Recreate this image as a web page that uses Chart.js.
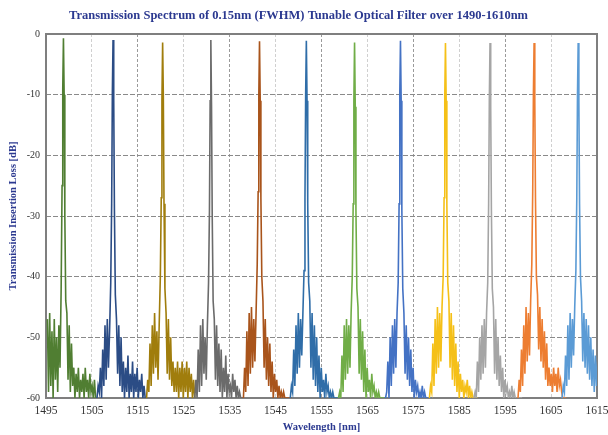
<!DOCTYPE html>
<html>
<head>
<meta charset="utf-8">
<script src="https://cdn.jsdelivr.net/npm/chart.js@4"></script>
<style>
  html, body { margin: 0; padding: 0; background: #fff; overflow: hidden; }
  #wrap { width: 608px; height: 435px; overflow: hidden; }
</style>
</head>
<body>
<div id="wrap"><canvas id="myChart" width="630" height="435"></canvas></div>
<script>
// axis ticks
const xTicks = [1495, 1505, 1515, 1525, 1535, 1545, 1555, 1565, 1575, 1585, 1595, 1605, 1615];
const yTicks = [0, -10, -20, -30, -40, -50, -60];

// centre wavelength of each filter setting (nm)
const peakNm = [1498.8, 1509.6, 1520.4, 1530.9, 1541.5, 1551.7, 1562.2, 1572.2, 1582.0, 1591.7, 1601.3, 1610.9];

// sample positions relative to the centre (nm)
const offsetNm = [-3.5, -3.25, -3, -2.75, -2.5, -2.25, -2, -1.75, -1.5, -1.25, -1, -0.75, -0.5,
  -0.3, -0.15, 0, 0.15, 0.3,
  0.5, 0.75, 1, 1.25, 1.5, 1.75, 2, 2.25, 2.5, 2.75, 3, 3.25, 3.5, 3.75, 4, 4.25, 4.5, 4.75,
  5, 5.25, 5.5, 5.75, 6, 6.25, 6.5, 6.75, 7];

// insertion loss (dB)
const ch01 = [-47, -59, -46, -58, -49, -60, -47, -57, -50, -59, -48, -55,
  -42, -25, -9, -0.7, -10, -30, -44,
  -46, -57, -48, -59, -51, -58, -55, -60, -56, -59, -55, -60, -57, -59, -56, -60, -55, -59, -57, -60, -56, -59, -58, -60, -57, -60];
const ch02 = [-60, -58, -59, -55, -60, -52, -58, -48, -57, -47, -55, -49,
  -41, -28, -10, -1.0, -11, -29, -43,
  -47, -56, -48, -58, -50, -59, -54, -60, -55, -59, -53, -60, -56, -59, -54, -60, -56, -59, -55, -60, -57, -59, -56, -60, -58, -60];
const ch03 = [-60, -57, -59, -51, -58, -48, -56, -46, -55, -49, -57, -48,
  -40, -27, -11, -1.4, -10, -28, -42,
  -46, -56, -47, -57, -50, -58, -54, -59, -55, -59, -54, -60, -55, -59, -54, -60, -55, -59, -54, -60, -55, -59, -56, -60, -57, -60];
const ch04 = [-60, -57, -60, -52, -59, -48, -58, -47, -56, -50, -57, -48,
  -41, -29, -11, -1.0, -12, -30, -44,
  -47, -57, -48, -58, -51, -59, -52, -60, -55, -59, -53, -60, -56, -59, -58, -60, -56, -59, -57, -60, -58, -60, -59, -60, -60, -60];
const ch05 = [-60, -55, -59, -49, -58, -46, -56, -45, -55, -47, -54, -46,
  -38, -26, -10, -1.2, -11, -27, -40,
  -44, -55, -47, -57, -50, -58, -51, -59, -54, -60, -56, -59, -57, -60, -58, -60, -59, -60, -59, -60, -60, -60, -60, -60, -60, -60];
const ch06 = [-60, -58, -59, -52, -58, -48, -56, -46, -55, -47, -53, -46,
  -39, -27, -10, -1.1, -11, -28, -41,
  -44, -55, -46, -57, -48, -58, -50, -59, -53, -60, -55, -59, -57, -60, -56, -59, -58, -60, -59, -60, -59, -60, -60, -60, -60, -60];
const ch07 = [-60, -59, -60, -53, -59, -48, -57, -47, -56, -48, -55, -46,
  -40, -28, -11, -1.4, -12, -29, -42,
  -45, -56, -47, -57, -49, -59, -52, -60, -55, -59, -57, -60, -56, -59, -58, -60, -59, -60, -59, -60, -60, -60, -60, -60, -60, -60];
const ch08 = [-60, -60, -59, -54, -60, -50, -58, -48, -56, -47, -55, -46,
  -41, -28, -10, -1.1, -11, -29, -42,
  -46, -56, -48, -57, -50, -58, -52, -59, -55, -60, -57, -59, -58, -60, -59, -60, -58, -60, -59, -60, -60, -60, -60, -60, -60, -60];
const ch09 = [-60, -58, -59, -51, -58, -47, -56, -45, -55, -46, -54, -45,
  -40, -27, -10, -1.5, -11, -28, -41,
  -44, -55, -46, -57, -48, -58, -51, -59, -54, -60, -56, -59, -57, -60, -58, -59, -57, -60, -58, -60, -59, -60, -60, -60, -60, -60];
const ch10 = [-60, -59, -60, -54, -59, -50, -57, -48, -56, -47, -55, -46,
  -41, -28, -11, -1.5, -12, -29, -42,
  -45, -56, -47, -57, -50, -58, -53, -59, -55, -60, -57, -59, -58, -60, -59, -60, -58, -60, -59, -60, -60, -60, -60, -60, -60, -60];
const ch11 = [-60, -57, -59, -52, -58, -48, -56, -45, -54, -46, -53, -44,
  -38, -26, -10, -1.5, -11, -27, -40,
  -43, -52, -45, -54, -47, -55, -49, -57, -51, -58, -55, -58, -56, -59, -55, -58, -56, -59, -55, -58, -57, -59, -60, -60, -60, -60];
const ch12 = [-60, -58, -59, -53, -58, -48, -57, -46, -55, -47, -53, -45,
  -39, -27, -10, -1.5, -11, -28, -40,
  -44, -54, -46, -55, -47, -56, -48, -57, -50, -58, -52, -59, -53, -58, -54, -59, -55, -58, -56, -59, -57, -59, -58, -60, -59, -60];

const traces = [ch01, ch02, ch03, ch04, ch05, ch06, ch07, ch08, ch09, ch10, ch11, ch12];
const colors = ['#507E32', '#2B4C85', '#A07D0C', '#6B6B6B', '#A9541B', '#2F6DA8',
  '#70AD47', '#4472C4', '#F5C018', '#A5A5A5', '#ED7D31', '#5B9BD5'];

const navy = '#2B3990';
const serif = "'Liberation Serif', 'DejaVu Serif', serif";

// grey frame round the plot area, under the traces
const frame = {
  id: 'frame',
  beforeDatasetsDraw(chart) {
    const a = chart.chartArea;
    const c = chart.ctx;
    c.save();
    c.strokeStyle = '#7F7F7F';
    c.lineWidth = 2;
    c.strokeRect(a.left, a.top, a.right - a.left, a.bottom - a.top);
    c.restore();
  }
};

const datasets = traces.map((vals, k) => ({
  label: String(peakNm[k]),
  data: vals.map((v, i) => ({ x: peakNm[k] + offsetNm[i], y: v })),
  borderColor: colors[k],
  borderWidth: 1.6,
  pointRadius: 0,
  tension: 0,
  order: 12 - k
}));

new Chart(document.getElementById('myChart'), {
  type: 'line',
  data: { datasets },
  options: {
    responsive: false,
    animation: false,
    layout: { padding: { right: 33 } },
    plugins: {
      legend: { display: false },
      tooltip: { enabled: false },
      title: {
        display: true,
        text: 'Transmission Spectrum of 0.15nm (FWHM) Tunable Optical Filter over 1490-1610nm',
        color: navy,
        font: { family: serif, size: 12.5, weight: 'bold' },
        padding: { top: 8, bottom: 11 }
      }
    },
    scales: {
      x: {
        type: 'linear',
        min: xTicks[0],
        max: xTicks[xTicks.length - 1],
        afterFit: s => { s.height = 37; },
        afterBuildTicks: s => { s.ticks = xTicks.map(v => ({ value: v })); },
        ticks: {
          autoSkip: false, maxRotation: 0, padding: 6,
          color: '#333', font: { family: serif, size: 11.5 },
          callback: v => String(v)
        },
        grid: {
          drawTicks: false,
          lineWidth: 1,
          color: ctx => (ctx.index % 2 === 0 ? '#9A9A9A' : '#D0D0D0')
        },
        border: { display: false, dash: [3, 2] },
        title: {
          display: true, text: 'Wavelength [nm]', color: navy,
          font: { family: serif, size: 10.5, weight: 'bold' },
          padding: { top: 0, bottom: 1 }
        }
      },
      y: {
        min: yTicks[yTicks.length - 1],
        max: yTicks[0],
        afterFit: s => { s.width = 46; },
        afterBuildTicks: s => { s.ticks = yTicks.slice().reverse().map(v => ({ value: v })); },
        ticks: { padding: 6, color: '#333', font: { family: serif, size: 10 } },
        grid: { drawTicks: false, lineWidth: 1, color: '#8A8A8A' },
        border: { display: false, dash: [5, 2] },
        title: {
          display: true, text: 'Transmission Insertion Loss [dB]', color: navy,
          font: { family: serif, size: 10.5, weight: 'bold' },
          padding: { top: 7, bottom: 0 }
        }
      }
    }
  },
  plugins: [frame]
});
</script>
</body>
</html>
